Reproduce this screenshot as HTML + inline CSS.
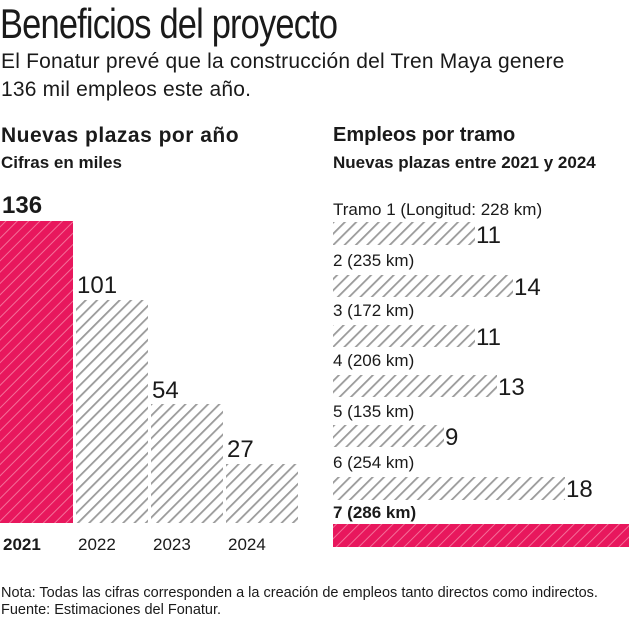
<!DOCTYPE html><html><head><style>
body{margin:0;width:629px;height:620px;background:#fff;font-family:"Liberation Sans",sans-serif;color:#1a1a1a;position:relative;overflow:hidden}
.t{position:absolute;white-space:nowrap}
</style></head><body>
<svg width="629" height="620" style="position:absolute;left:0;top:0">
<defs>
<pattern id="g" width="8" height="8" patternUnits="userSpaceOnUse" patternTransform="rotate(45)"><rect width="8" height="8" fill="#fff"/><rect x="0" width="1.8" height="8" fill="#9a9a9a"/></pattern>
<pattern id="p" width="8" height="8" patternUnits="userSpaceOnUse" patternTransform="rotate(45)"><rect width="8" height="8" fill="#e8175d"/><rect x="0" width="1" height="8" fill="#f46f98"/></pattern>
</defs>
<rect x="0" y="221" width="73" height="302" fill="url(#p)"/>
<rect x="76" y="300" width="72" height="223" fill="url(#g)"/>
<rect x="151" y="404" width="72" height="119" fill="url(#g)"/>
<rect x="226" y="464" width="72" height="59" fill="url(#g)"/>
<rect x="333" y="222" width="142" height="23" fill="url(#g)"/>
<rect x="333" y="275" width="180" height="22" fill="url(#g)"/>
<rect x="333" y="325" width="142" height="22" fill="url(#g)"/>
<rect x="333" y="375" width="164" height="22" fill="url(#g)"/>
<rect x="333" y="425" width="111" height="22" fill="url(#g)"/>
<rect x="333" y="477" width="232" height="23" fill="url(#g)"/>
<rect x="333" y="524" width="296" height="23" fill="url(#p)"/>
</svg>
<div class="t" style="left:0;top:0px;font-size:42px;transform:scaleX(0.82);transform-origin:left;letter-spacing:-1px">Beneficios del proyecto</div>
<div class="t" style="left:1px;top:48px;font-size:21px;line-height:28px;letter-spacing:0.2px">El Fonatur prevé que la construcción del Tren Maya genere<br>136 mil empleos este año.</div>
<div class="t" style="left:1px;top:124px;font-size:21px;font-weight:bold;letter-spacing:0.5px">Nuevas plazas por año</div>
<div class="t" style="left:1px;top:153px;font-size:17px;font-weight:bold">Cifras en miles</div>
<div class="t" style="left:333px;top:124px;font-size:20px;font-weight:bold">Empleos por tramo</div>
<div class="t" style="left:333px;top:153px;font-size:17px;font-weight:bold">Nuevas plazas entre 2021 y 2024</div>
<div class="t" style="left:2px;top:192px;font-size:24px;font-weight:bold">136</div>
<div class="t" style="left:77px;top:272px;font-size:24px">101</div>
<div class="t" style="left:152px;top:377px;font-size:24px">54</div>
<div class="t" style="left:227px;top:436px;font-size:24px">27</div>
<div class="t" style="left:3px;top:535px;font-size:17px;font-weight:bold">2021</div>
<div class="t" style="left:78px;top:535px;font-size:17px">2022</div>
<div class="t" style="left:153px;top:535px;font-size:17px">2023</div>
<div class="t" style="left:228px;top:535px;font-size:17px">2024</div>
<div class="t" style="left:333px;top:200px;font-size:17px">Tramo 1 (Longitud: 228 km)</div>
<div class="t" style="left:333px;top:251px;font-size:17px">2 (235 km)</div>
<div class="t" style="left:333px;top:301px;font-size:17px">3 (172 km)</div>
<div class="t" style="left:333px;top:351px;font-size:17px">4 (206 km)</div>
<div class="t" style="left:333px;top:402px;font-size:17px">5 (135 km)</div>
<div class="t" style="left:333px;top:453px;font-size:17px">6 (254 km)</div>
<div class="t" style="left:333px;top:503px;font-size:17px;font-weight:bold">7 (286 km)</div>
<div class="t" style="left:476px;top:222px;font-size:24px">11</div>
<div class="t" style="left:514px;top:274px;font-size:24px">14</div>
<div class="t" style="left:476px;top:324px;font-size:24px">11</div>
<div class="t" style="left:498px;top:374px;font-size:24px">13</div>
<div class="t" style="left:445px;top:424px;font-size:24px">9</div>
<div class="t" style="left:566px;top:476px;font-size:24px">18</div>
<div class="t" style="left:1px;top:585px;font-size:14.5px;line-height:17px">Nota: Todas las cifras corresponden a la creación de empleos tanto directos como indirectos.<br>Fuente: Estimaciones del Fonatur.</div>
</body></html>
